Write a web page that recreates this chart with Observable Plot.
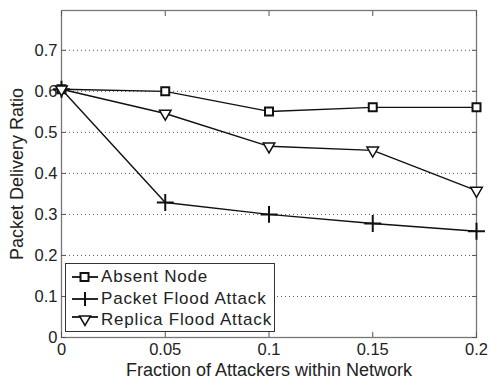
<!DOCTYPE html>
<html>
<head>
<meta charset="utf-8">
<script src="https://cdn.jsdelivr.net/npm/d3@7"></script>
<script src="https://cdn.jsdelivr.net/npm/@observablehq/plot@0.6"></script>
<style>
  html, body { margin: 0; padding: 0; background: #fff; }
  #wrap { position: relative; width: 490px; height: 383px; font-family: "Liberation Sans", Arial, Helvetica, sans-serif; }
  #legend { position: absolute; left: 65px; top: 263px; width: 210px; height: 69px; border: 1px solid #333; background: #fff; box-sizing: border-box; color: #222; font-size: 17px; letter-spacing: 0.8px; }
  .row { position: absolute; left: 5px; height: 22px; line-height: 22px; white-space: nowrap; }
  .row svg { position: absolute; left: 0; top: 4px; }
  .row span { position: absolute; left: 30px; top: 0; }
</style>
</head>
<body>
<div id="wrap"></div>
<script>
const fractions = [0, 0.05, 0.1, 0.15, 0.2];
const absentNode = [0.605, 0.600, 0.551, 0.561, 0.561];
const packetFlood = [0.605, 0.329, 0.300, 0.278, 0.259];
const replicaFlood = [0.605, 0.546, 0.466, 0.456, 0.358];
const seriesNames = ["Absent Node", "Packet Flood Attack", "Replica Flood Attack"];
const xTicks = [0, 0.05, 0.1, 0.15, 0.2];
const yTicks = [0, 0.1, 0.2, 0.3, 0.4, 0.5, 0.6, 0.7];
const xLabel = "Fraction of Attackers within Network";
const yLabel = "Packet Delivery Ratio";

const mk = (vals, name) => fractions.map((f, i) => ({x: f, y: vals[i], s: name}));
const dA = mk(absentNode, seriesNames[0]);
const dP = mk(packetFlood, seriesNames[1]);
const dR = mk(replicaFlood, seriesNames[2]);

const ink = "#222";
const chart = Plot.plot({
  width: 490, height: 383,
  marginLeft: 61, marginRight: 14, marginTop: 10, marginBottom: 46,
  style: {fontFamily: "Liberation Sans, Arial, Helvetica, sans-serif", fontSize: "17px", color: ink, background: "#fff", overflow: "visible"},
  x: {domain: [0, 0.2]},
  y: {domain: [0, 0.797]},
  marks: [
    Plot.gridY(yTicks.filter(t => t > 0), {stroke: "#555", strokeOpacity: 1, strokeDasharray: "1,3", strokeWidth: 1}),
    Plot.frame({stroke: "#777", strokeWidth: 1.3}),
    Plot.axisX({anchor: "bottom", ticks: xTicks, tickSize: -5, tickFormat: () => "", stroke: "#555", label: null}),
    Plot.axisX({anchor: "top", ticks: xTicks, tickSize: -5, tickFormat: () => "", stroke: "#555", label: null}),
    Plot.axisY({anchor: "left", ticks: yTicks, tickSize: -5, tickFormat: () => "", stroke: "#555", label: null}),
    Plot.axisY({anchor: "right", ticks: yTicks, tickSize: -5, tickFormat: () => "", stroke: "#555", label: null}),
    Plot.axisX({anchor: "bottom", ticks: xTicks, tickSize: 0, tickPadding: 6, tickFormat: d => String(d), fontSize: 16.5, fill: ink, label: null}),
    Plot.axisY({anchor: "left", ticks: yTicks, tickSize: 0, tickPadding: 4, tickFormat: d => String(d), fontSize: 16.5, fill: ink, label: null}),
    Plot.text([xLabel], {text: d => d, frameAnchor: "bottom", dy: 38, fontSize: 18, fill: ink}),
    Plot.text([yLabel], {text: d => d, frameAnchor: "left", textAnchor: "middle", dx: -44, rotate: -90, fontSize: 18, fill: ink}),
    Plot.line(dA, {x: "x", y: "y", stroke: "#111", strokeWidth: 1.4}),
    Plot.line(dP, {x: "x", y: "y", stroke: "#111", strokeWidth: 1.4}),
    Plot.line(dR, {x: "x", y: "y", stroke: "#111", strokeWidth: 1.4}),
    Plot.dot(dA, {x: "x", y: "y", symbol: "square", r: 4.5, stroke: "#111", strokeWidth: 2, fill: "white"}),
    Plot.dot(dP, {x: "x", y: "y", symbol: "plus", r: 5.5, stroke: "#111", strokeWidth: 2}),
    Plot.dot(dR, {x: "x", y: "y", symbol: "triangle", rotate: 180, r: 4.3, stroke: "#111", strokeWidth: 1.5, fill: "white"})
  ]
});
const wrap = document.getElementById("wrap");
wrap.appendChild(chart);

// legend
const icons = [
  `<svg width="28" height="14"><line x1="1" y1="7" x2="27" y2="7" stroke="#111" stroke-width="1.8"/><rect x="9.5" y="3" width="8" height="8" fill="white" stroke="#111" stroke-width="2"/></svg>`,
  `<svg width="28" height="14"><line x1="1" y1="7" x2="27" y2="7" stroke="#111" stroke-width="1.8"/><line x1="14" y1="0" x2="14" y2="14" stroke="#111" stroke-width="2"/></svg>`,
  `<svg width="28" height="14"><line x1="1" y1="4" x2="27" y2="4" stroke="#111" stroke-width="1.8"/><path d="M8.5,3 L19.5,3 L14,12.5 Z" fill="white" stroke="#111" stroke-width="1.5"/></svg>`
];
const lg = document.createElement("div");
lg.id = "legend";
seriesNames.forEach((n, i) => {
  const r = document.createElement("div");
  r.className = "row";
  r.style.top = (2 + i * 21.5) + "px";
  r.innerHTML = icons[i] + "<span>" + n + "</span>";
  lg.appendChild(r);
});
wrap.appendChild(lg);
</script>
</body>
</html>
